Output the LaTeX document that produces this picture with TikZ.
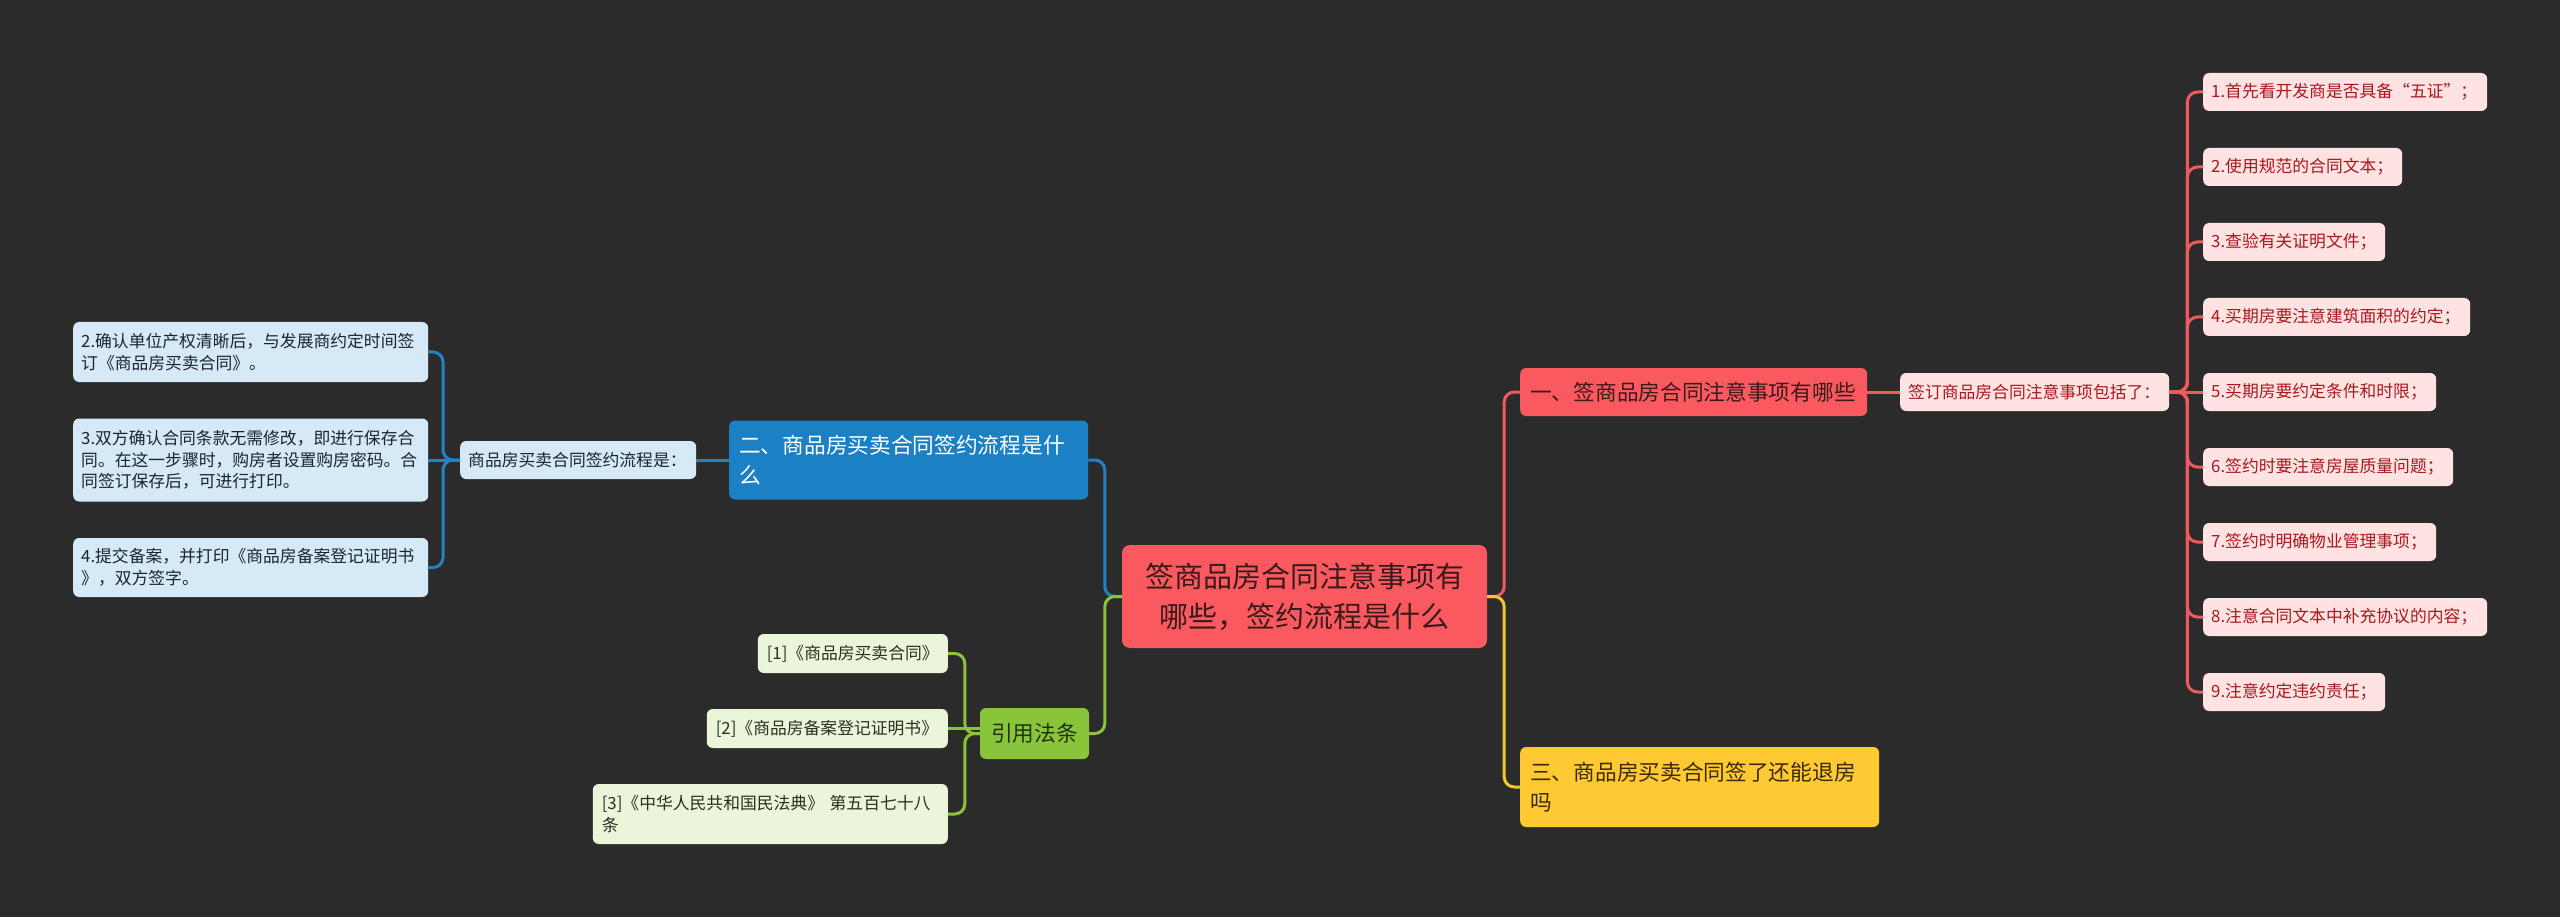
\documentclass[tikz,border=0pt]{standalone}
\usepackage{fontspec}
\setmainfont{Noto Sans CJK SC}
\definecolor{bgc}{HTML}{2B2B2B}
\definecolor{redf}{HTML}{FA5A5F}
\definecolor{redt}{HTML}{3A1A1C}
\definecolor{pinkf}{HTML}{FFE3E3}
\definecolor{pinkt}{HTML}{A8181E}
\definecolor{redl}{HTML}{F0595D}
\definecolor{bluef}{HTML}{1C80C4}
\definecolor{bluel}{HTML}{2382C4}
\definecolor{lbluef}{HTML}{D6E9F6}
\definecolor{lbluet}{HTML}{1A2530}
\definecolor{greenf}{HTML}{8AC43A}
\definecolor{greent}{HTML}{1E3510}
\definecolor{greenl}{HTML}{8AC43A}
\definecolor{lgreenf}{HTML}{EBF5DA}
\definecolor{lgreent}{HTML}{283020}
\definecolor{yelf}{HTML}{FFC934}
\definecolor{yelt}{HTML}{3A2C00}
\definecolor{yell}{HTML}{F5C530}
\begin{document}
\begin{tikzpicture}[x=1pt,y=-1pt,
  box/.style={rounded corners=6pt, inner ysep=0pt, inner xsep=8pt, align=left},
  small/.style={font=\fontsize{16.8}{21.5}\selectfont},
  big/.style={font=\fontsize{21.7}{29.5}\selectfont},
  pinkbox/.style={box, small, fill=pinkf, text=pinkt, minimum height=38pt, anchor=west},
  lbluebox/.style={box, small, fill=lbluef, text=lbluet, anchor=west},
  lgreenbox/.style={box, small, fill=lgreenf, text=lgreent, inner xsep=9pt, anchor=east},
  conn/.style={line width=3pt, rounded corners=10pt},
  rline/.style={conn, draw=redl},
  bline/.style={conn, draw=bluel},
  gline/.style={conn, draw=greenl},
  yline/.style={conn, draw=yell}
]
\fill[bgc] (0,0) rectangle (2560,917);
\useasboundingbox (0,0) rectangle (2560,917);

% center
\node[box, align=center, fill=redf, text=redt, font=\fontsize{29}{40}\selectfont,
      inner xsep=10pt, text width=345pt, minimum height=103pt, rounded corners=8pt]
  (c) at (1304.5,596.5) {签商品房合同注意事项有\\哪些，签约流程是什么};

% right branch 1
\node[box, big, fill=redf, text=redt, inner xsep=10pt, text width=327pt,
      minimum height=48pt, anchor=west] (b1) at (1520,392) {一、签商品房合同注意事项有哪些};
\node[pinkbox, text width=253pt] (s1) at (1900,392) {签订商品房合同注意事项包括了：};
\node[pinkbox, text width=268pt] (i1) at (2203,92) {1.首先看开发商是否具备“五证”；};
\node[pinkbox, text width=183pt] (i2) at (2203,167) {2.使用规范的合同文本；};
\node[pinkbox, text width=166pt] (i3) at (2203,242) {3.查验有关证明文件；};
\node[pinkbox, text width=251pt] (i4) at (2203,317) {4.买期房要注意建筑面积的约定；};
\node[pinkbox, text width=217pt] (i5) at (2203,392) {5.买期房要约定条件和时限；};
\node[pinkbox, text width=234pt] (i6) at (2203,467) {6.签约时要注意房屋质量问题；};
\node[pinkbox, text width=217pt] (i7) at (2203,542) {7.签约时明确物业管理事项；};
\node[pinkbox, text width=268pt] (i8) at (2203,617) {8.注意合同文本中补充协议的内容；};
\node[pinkbox, text width=166pt] (i9) at (2203,692) {9.注意约定违约责任；};

% right branch 3
\node[box, big, fill=yelf, text=yelt, inner xsep=10pt, text width=339pt,
      minimum height=80pt, anchor=west] (b3) at (1520,787) {三、商品房买卖合同签了还能退房\\吗};

% left branch 2
\node[box, big, fill=bluef, text=white, inner xsep=10pt, text width=339pt,
      minimum height=79pt, anchor=west] (b2) at (729,460) {二、商品房买卖合同签约流程是什\\么};
\node[lbluebox, text width=220pt, minimum height=38pt] (p2) at (460,460) {商品房买卖合同签约流程是：};
\node[lbluebox, text width=339pt, minimum height=60pt] (L2) at (73,352)
  {2.确认单位产权清晰后，与发展商约定时间签\\订《商品房买卖合同》。};
\node[lbluebox, text width=339pt, minimum height=83pt] (L3) at (73,460)
  {3.双方确认合同条款无需修改，即进行保存合\\同。在这一步骤时，购房者设置购房密码。合\\同签订保存后，可进行打印。};
\node[lbluebox, text width=339pt, minimum height=59pt] (L4) at (73,567.5)
  {4.提交备案，并打印《商品房备案登记证明书\\》，双方签字。};

% left branch 4
\node[box, big, align=center, fill=greenf, text=greent, text width=93pt,
      minimum height=51pt] (b4) at (1034.5,733.5) {引用法条};
\node[lgreenbox, text width=172pt, minimum height=39pt] (G1) at (948,653.5) {[1]《商品房买卖合同》};
\node[lgreenbox, text width=223pt, minimum height=39pt] (G2) at (948,728.5) {[2]《商品房备案登记证明书》};
\node[lgreenbox, text width=337pt, minimum height=60pt] (G3) at (948,814)
  {[3]《中华人民共和国民法典》 第五百七十八\\条};

% connectors
\draw[rline] (c.east) -- ++(17,0) |- (b1.west);
\draw[yline] (c.east) -- ++(17,0) |- (b3.west);
\draw[rline] (b1.east) -- (s1.west);
\foreach \i in {1,2,3,4,6,7,8,9} \draw[rline] (s1.east) -- ++(18,0) |- (i\i.west);
\draw[rline] (s1.east) -- (i5.west);
\draw[bline] (c.west) -- ++(-17,0) |- (b2.east);
\draw[gline] (c.west) -- ++(-17,0) |- (b4.east);
\draw[bline] (b2.west) -- (p2.east);
\foreach \i in {2,4} \draw[bline] (p2.west) -- ++(-17,0) |- (L\i.east);
\draw[bline] (p2.west) -- (L3.east);
\foreach \i in {1,3} \draw[gline] (b4.west) -- ++(-15,0) |- (G\i.east);
\draw[gline] (G2.east) -- (G2.east -| b4.west);
\end{tikzpicture}
\end{document}
